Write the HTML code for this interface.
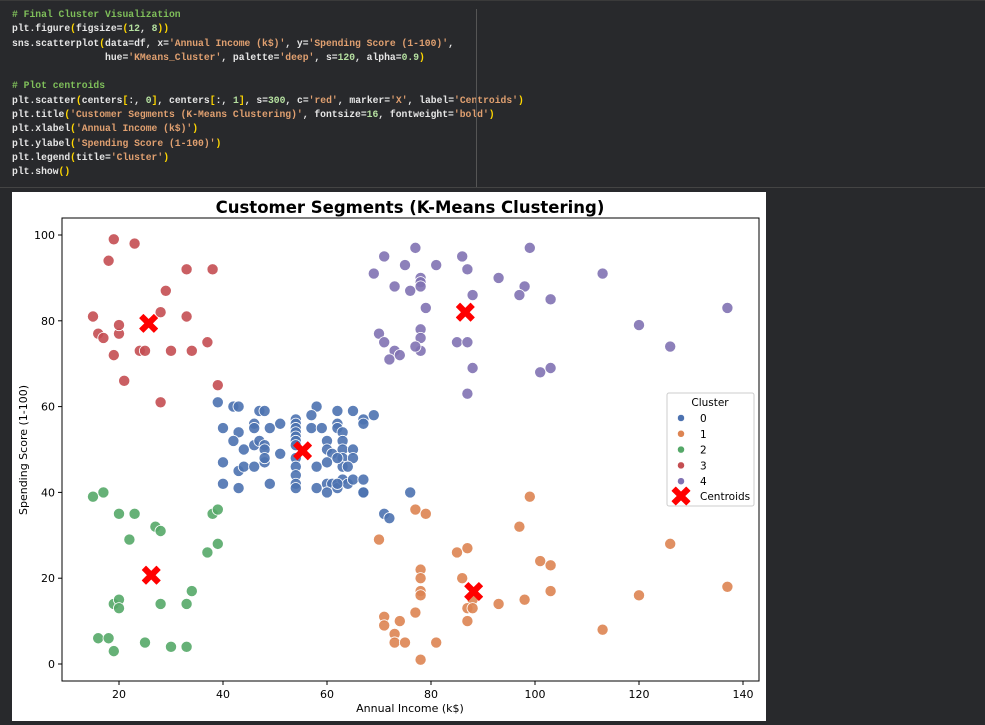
<!DOCTYPE html>
<html><head><meta charset="utf-8">
<style>
body{margin:0;width:985px;height:725px;background:#28292c;overflow:hidden;position:relative;font-family:"DejaVu Sans","Liberation Sans",sans-serif}
#code{position:absolute;left:0;top:0;width:985px;height:186px;background:#28292c;border-top:1px solid #3a3a3a;border-bottom:1px solid #444}
#code pre{margin:0;position:absolute;left:12px;top:7px;font-family:"Liberation Mono",monospace;font-size:9.7px;line-height:14.3px;color:#e6e6e6;font-weight:bold}
.c{color:#7fbf5a}.s{color:#e0a070}.n{color:#b5e0a0}.p{color:#ffd700}
#vline{position:absolute;left:476px;top:8px;width:1px;height:178px;background:#555}
#panel{position:absolute;left:12px;top:192px;width:754px;height:529px;background:#fff}
svg{position:absolute;left:0;top:0}
svg text{font-family:"DejaVu Sans","Liberation Sans",sans-serif}
</style></head><body>
<div id="code">
<pre><span class="c"># Final Cluster Visualization</span>
plt.figure<span class="p">(</span>figsize=<span class="p">(</span><span class="n">12</span>, <span class="n">8</span><span class="p">))</span>
sns.scatterplot<span class="p">(</span>data=df, x=<span class="s">'Annual Income (k$)'</span>, y=<span class="s">'Spending Score (1-100)'</span>,
                hue=<span class="s">'KMeans_Cluster'</span>, palette=<span class="s">'deep'</span>, s=<span class="n">120</span>, alpha=<span class="n">0.9</span><span class="p">)</span>

<span class="c"># Plot centroids</span>
plt.scatter<span class="p">(</span>centers<span class="p">[</span>:, <span class="n">0</span><span class="p">]</span>, centers<span class="p">[</span>:, <span class="n">1</span><span class="p">]</span>, s=<span class="n">300</span>, c=<span class="s">'red'</span>, marker=<span class="s">'X'</span>, label=<span class="s">'Centroids'</span><span class="p">)</span>
plt.title<span class="p">(</span><span class="s">'Customer Segments (K-Means Clustering)'</span>, fontsize=<span class="n">16</span>, fontweight=<span class="s">'bold'</span><span class="p">)</span>
plt.xlabel<span class="p">(</span><span class="s">'Annual Income (k$)'</span><span class="p">)</span>
plt.ylabel<span class="p">(</span><span class="s">'Spending Score (1-100)'</span><span class="p">)</span>
plt.legend<span class="p">(</span>title=<span class="s">'Cluster'</span><span class="p">)</span>
plt.show<span class="p">()</span></pre>
<div id="vline"></div>
</div>
<div id="panel"></div>
<svg id="chart" width="985" height="725"></svg>
<script>
const cluster0 = [[67,40],[76,40],[71,35],[72,34],[39,61],[42,60],[43,60],[47,59],[48,59],[54,57],[54,56],[54,55],[54,54],[54,53],[54,52],[54,51],[54,48],[54,46],[54,44],[54,42],[54,41],[58,60],[57,58],[62,59],[65,59],[67,57],[69,58],[67,56],[40,55],[43,54],[46,56],[46,55],[49,55],[51,56],[57,55],[59,55],[62,56],[62,55],[63,54],[63,52],[63,50],[63,48],[63,46],[42,52],[44,50],[46,51],[47,52],[48,51],[48,50],[51,49],[60,52],[60,50],[61,49],[62,48],[65,50],[65,48],[40,47],[43,45],[44,46],[46,46],[48,47],[48,48],[58,46],[60,47],[64,46],[40,42],[43,41],[49,42],[58,41],[60,42],[61,42],[62,41],[63,43],[64,42],[65,43],[67,43],[60,40],[67,40],[62,42]];
const cluster1 = [[99,39],[77,36],[79,35],[97,32],[70,29],[126,28],[85,26],[87,27],[101,24],[103,23],[78,22],[78,20],[78,17],[78,16],[86,20],[137,18],[103,17],[120,16],[88,15],[87,13],[88,13],[93,14],[98,15],[77,12],[71,11],[71,9],[74,10],[87,10],[113,8],[73,7],[73,5],[75,5],[81,5],[78,1]];
const cluster2 = [[16,6],[18,6],[19,3],[25,5],[30,4],[33,4],[19,14],[20,15],[20,13],[28,14],[33,14],[34,17],[15,39],[17,40],[20,35],[23,35],[22,29],[27,32],[28,31],[38,35],[39,36],[37,26],[39,28]];
const cluster3 = [[19,99],[23,98],[18,94],[33,92],[38,92],[29,87],[15,81],[28,82],[33,81],[16,77],[17,76],[20,77],[20,79],[19,72],[24,73],[25,73],[30,73],[34,73],[37,75],[21,66],[28,61],[39,65]];
const cluster4 = [[69,91],[71,95],[77,97],[75,93],[81,93],[86,95],[87,92],[99,97],[73,88],[76,87],[78,90],[78,89],[78,88],[93,90],[98,88],[97,86],[88,86],[113,91],[103,85],[79,83],[137,83],[120,79],[126,74],[70,77],[71,75],[78,78],[78,76],[78,73],[77,74],[73,73],[72,71],[74,72],[85,75],[87,75],[88,69],[101,68],[103,69],[87,63]];
const centroidX = [55.3, 88.2, 26.2, 25.7, 86.6];
const centroidY = [49.7, 16.9, 20.7, 79.4, 82.0];
const xTicks = [20,40,60,80,100,120,140];
const yTicks = [0,20,40,60,80,100];
const clusterLabels = ['0','1','2','3','4'];
const colors = ['#4c72b0','#dd8452','#55a868','#c44e52','#8172b3'];

const NS='http://www.w3.org/2000/svg';
const svg=document.getElementById('chart');
const L=62,R=759,T=218,B=681;
const xs=v=>119+(v-20)*5.2;
const ys=v=>664-v*4.29;
function mk(tag,attrs,parent){const e=document.createElementNS(NS,tag);for(const k in attrs)e.setAttribute(k,attrs[k]);(parent||svg).appendChild(e);return e;}

xTicks.forEach(t=>{
  const g=mk('g',{});
  
  
  mk('line',{x1:xs(t),x2:xs(t),y1:B,y2:B+4,stroke:'#000','stroke-width':1},g);
  const tx=mk('text',{x:xs(t),y:B+17,'text-anchor':'middle','font-size':11,fill:'#000'},g);tx.textContent=t;
});
yTicks.forEach(t=>{
  const g=mk('g',{});
  
  
  mk('line',{x1:L-4,x2:L,y1:ys(t),y2:ys(t),stroke:'#000','stroke-width':1},g);
  const tx=mk('text',{x:L-7,y:ys(t)+4,'text-anchor':'end','font-size':11,fill:'#000'},g);tx.textContent=t;
});
[cluster0,cluster1,cluster2,cluster3,cluster4].forEach((pts,ci)=>{
  const g=mk('g',{});
  
  
  pts.forEach(p=>{
    const c=mk('circle',{cx:xs(p[0]),cy:ys(p[1]),r:5.6,fill:colors[ci],'fill-opacity':0.9,stroke:'#fff','stroke-width':0.8},g);
    
    
  });
});
function xMarker(cx,cy,s,parent){
  const w=s*0.42,b=s;
  const d=`M${cx-b},${cy-b+w} L${cx-b+w},${cy-b} L${cx},${cy-w} L${cx+b-w},${cy-b} L${cx+b},${cy-b+w} L${cx+w},${cy} L${cx+b},${cy+b-w} L${cx+b-w},${cy+b} L${cx},${cy+w} L${cx-b+w},${cy+b} L${cx-b},${cy+b-w} L${cx-w},${cy} Z`;
  return mk('path',{d:d,fill:'#ff0000','stroke':'#ff0000','stroke-width':0.8,'stroke-linejoin':'round'},parent);
}
centroidX.forEach((x,i)=>{
  const m=xMarker(xs(x),ys(centroidY[i]),9,svg);
  
  
});
const fr=mk('rect',{x:L,y:T,width:R-L,height:B-T,fill:'none',stroke:'#000','stroke-width':1});


const tt=mk('text',{x:410,y:213,'text-anchor':'middle','font-size':16.5,'font-weight':'bold',fill:'#000'});
tt.textContent='Customer Segments (K-Means Clustering)';


const xl=mk('text',{x:410,y:712,'text-anchor':'middle','font-size':11,fill:'#000'});
xl.textContent='Annual Income (k$)';


const yl=mk('text',{x:27,y:450,'text-anchor':'middle','font-size':11,fill:'#000',transform:'rotate(-90 27 450)'});
yl.textContent='Spending Score (1-100)';


const lg=mk('g',{});


mk('rect',{x:667,y:393,width:87,height:113,rx:2,fill:'#fff','fill-opacity':0.85,stroke:'#ccc','stroke-width':1},lg);
const lt=mk('text',{x:710,y:406,'text-anchor':'middle','font-size':10.5,fill:'#000'},lg);lt.textContent='Cluster';
clusterLabels.forEach((lab,i)=>{
  const e=mk('g',{},lg);
  
  
  const y=418+i*15.8;
  mk('circle',{cx:681,cy:y,r:3.5,fill:colors[i],stroke:'#fff','stroke-width':0.5},e);
  const t=mk('text',{x:700,y:y+4,'font-size':10.5,fill:'#000'},e);t.textContent=lab;
});
const ce=mk('g',{},lg);


xMarker(681,496,9,ce);
const ct=mk('text',{x:700,y:500,'font-size':10.5,fill:'#000'},ce);ct.textContent='Centroids';
</script>
</body></html>
